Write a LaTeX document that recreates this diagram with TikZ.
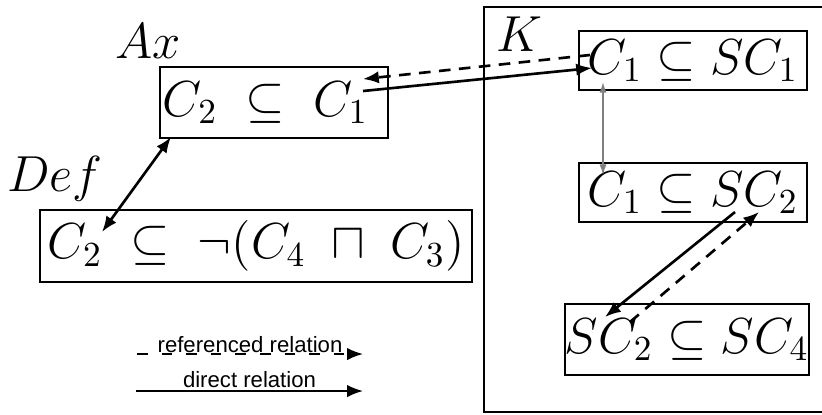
\documentclass[tikz,border=0pt]{standalone}
\usepackage{amsmath, amssymb}
\usepackage{fontspec}
\newfontfamily\legendfont{Liberation Sans}
\usetikzlibrary{arrows.meta}

\begin{document}
\begin{tikzpicture}[x=0.01cm, y=-0.01cm,
    axiom/.style={draw, semithick, inner sep=0pt, font=\fontsize{14}{16}\selectfont},
    tag/.style={font=\fontsize{14.5}{16}\selectfont},
    rel/.style={line width=0.75pt, -{Latex[length=4.5pt, width=3.5pt]}},
    bothrel/.style={line width=0.75pt, {Latex[length=4.5pt, width=3.5pt]}-{Latex[length=4.5pt, width=3.5pt]}},
    refrel/.style={rel, dash pattern=on 3.3pt off 2.4pt},
    legend/.style={font=\legendfont\fontsize{6.3}{7.5}\selectfont, inner sep=0pt}]

    % Fix the page and cut the frame at its right side
    \useasboundingbox (0,0) rectangle (822,414);
    \clip (0,0) rectangle (822,414);

    % The knowledge base frame
    \node[draw, semithick, minimum width=4.16cm, minimum height=4.05cm] (kframe) at (692,209.5) {};
    \node[tag] (klabel) at (519,34) {$K$};

    % Axiom and definition
    \node[tag] (axlabel) at (148,41) {$Ax$};
    \node[axiom, minimum height=0.71cm, text width=2.22cm, inner xsep=0.03cm, align=left] (ax) at (274,102.5)
        {$C_2 \;\subseteq\; C_1$};
    \node[tag] (deflabel) at (55,179) {$Def$};
    \node[axiom, minimum width=4.32cm, minimum height=0.72cm] (def) at (256,246)
        {$C_2 \;\subseteq\; \neg(C_4 \;\sqcap\; C_3)$};

    % Subsumptions in K
    \node[axiom, minimum width=2.28cm, minimum height=0.59cm] (kone) at (693,60.5) {$C_1 \subseteq SC_1$};
    \node[axiom, minimum width=2.28cm, minimum height=0.59cm] (ktwo) at (693,192.5) {$C_1 \subseteq SC_2$};
    \node[axiom, minimum width=2.40cm, minimum height=0.71cm] (kthree) at (687,339.5) {$SC_2 \subseteq SC_4$};

    % Ends of the relations
    \coordinate (axin) at (363,91);
    \coordinate (axout) at (363,79);
    \coordinate (axfoot) at (171,137);
    \coordinate (defc) at (102,232);
    \coordinate (konein) at (592,68);
    \coordinate (koneout) at (590,55);
    \coordinate (konefoot) at (603,82);
    \coordinate (ktwohead) at (603,175);
    \coordinate (ktwoout) at (735,212);
    \coordinate (ktwoin) at (759,212);
    \coordinate (kthreein) at (605,317);
    \coordinate (kthreeout) at (630,322);

    % Relations
    \draw[rel] (axin) -- (konein);
    \draw[refrel] (koneout) -- (axout);
    \draw[bothrel] (axfoot) -- (defc);
    \draw[gray, thin, {Latex[length=3pt, width=2pt]}-{Latex[length=3pt, width=2pt]}] (konefoot) -- (ktwohead);
    \draw[rel] (ktwoout) -- (kthreein);
    \draw[refrel] (kthreeout) -- (ktwoin);

    % Legend
    \coordinate (refa) at (137,354);
    \coordinate (refb) at (363,354);
    \coordinate (dira) at (136,391);
    \coordinate (dirb) at (363,391);
    \draw[refrel, line width=0.5pt, dash pattern=on 3pt off 4pt] (refa) -- node[legend, anchor=base, yshift=0.3pt] (reftext) {referenced relation} (refb);
    \draw[rel, line width=0.5pt] (dira) -- node[legend, anchor=base, yshift=0.9pt] (dirtext) {direct relation} (dirb);
\end{tikzpicture}
\end{document}
